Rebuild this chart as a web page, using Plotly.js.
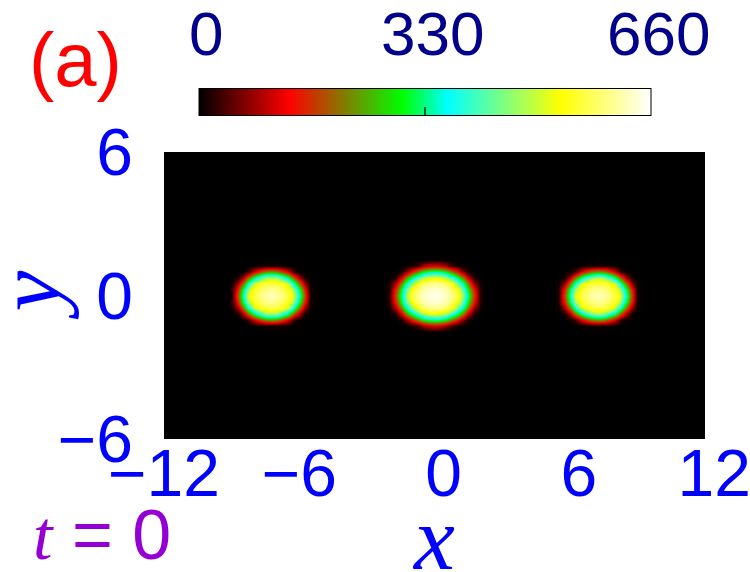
<!DOCTYPE html>
<html>
<head>
<meta charset="utf-8">
<script src="https://cdn.plot.ly/plotly-3.0.1.min.js"></script>
<style>html,body{margin:0;padding:0;background:#fff;}#chart{width:750px;height:572px;}</style>
</head>
<body>
<div id="chart"></div>
<script>
// ---- data ----
// colour scale (value range of the density)
var zMin = 0, zMax = 660;
var cbTickVals = [0, 330, 660];
var cbTickText = ['0', '330', '660'];

// axis ticks
var xTickVals = [-12, -6, 0, 6, 12];
var xTickText = ['\u221212', '\u22126', '\u00a00', '\u00a06', '\u00a012'];
var yTickVals = [-6, 0, 6];
var yTickText = ['\u22126', '0', '6'];

// blob 1 (centre x = -7.25), grid step 0.25
var blob1X = [-9.25, -9.0, -8.75, -8.5, -8.25, -8.0, -7.75, -7.5, -7.25, -7.0, -6.75, -6.5, -6.25, -6.0, -5.75, -5.5, -5.25];
var blob1Y = [-1.5, -1.25, -1.0, -0.75, -0.5, -0.25, 0, 0.25, 0.5, 0.75, 1.0, 1.25, 1.5];
var blob1Z = [
  [0,0,0,0,0,0,0,0,0,0,0,0,0,0,0,0,0],
  [0,0,0,0,0,4,7,9,10,9,7,4,0,0,0,0,0],
  [0,0,0,5,29,111,174,222,239,222,174,111,29,5,0,0,0],
  [0,0,7,83,202,320,407,460,480,460,407,320,202,83,7,0,0],
  [0,5,69,215,369,496,539,561,566,561,539,496,369,215,69,5,0],
  [0,9,140,315,473,545,578,598,606,598,578,545,473,315,140,9,0],
  [0,10,165,350,512,560,592,615,625,615,592,560,512,350,165,10,0],
  [0,9,140,315,473,545,578,598,606,598,578,545,473,315,140,9,0],
  [0,5,69,215,369,496,539,561,566,561,539,496,369,215,69,5,0],
  [0,0,7,83,202,320,407,460,480,460,407,320,202,83,7,0,0],
  [0,0,0,5,29,111,174,222,239,222,174,111,29,5,0,0,0],
  [0,0,0,0,0,4,7,9,10,9,7,4,0,0,0,0,0],
  [0,0,0,0,0,0,0,0,0,0,0,0,0,0,0,0,0]
];

// blob 2 (centre x = 0), grid step 0.25
var blob2X = [-2.25, -2.0, -1.75, -1.5, -1.25, -1.0, -0.75, -0.5, -0.25, 0, 0.25, 0.5, 0.75, 1.0, 1.25, 1.5, 1.75, 2.0, 2.25];
var blob2Y = [-1.75, -1.5, -1.25, -1.0, -0.75, -0.5, -0.25, 0, 0.25, 0.5, 0.75, 1.0, 1.25, 1.5, 1.75];
var blob2Z = [
  [0,0,0,0,0,0,0,0,0,0,0,0,0,0,0,0,0,0,0],
  [0,0,0,0,0,0,0,0,2,4,2,0,0,0,0,0,0,0,0],
  [0,0,0,0,2,13,29,75,104,114,104,75,29,13,2,0,0,0,0],
  [0,0,0,12,61,149,227,287,325,336,325,287,227,149,61,12,0,0,0],
  [0,0,15,100,216,327,410,473,508,520,508,473,410,327,216,100,15,0,0],
  [0,10,79,215,347,459,543,583,601,606,601,583,543,459,347,215,79,10,0],
  [0,17,143,292,427,536,591,618,633,638,633,618,591,536,427,292,143,17,0],
  [0,20,165,320,455,565,605,630,645,650,645,630,605,565,455,320,165,20,0],
  [0,17,143,292,427,536,591,618,633,638,633,618,591,536,427,292,143,17,0],
  [0,10,79,215,347,459,543,583,601,606,601,583,543,459,347,215,79,10,0],
  [0,0,15,100,216,327,410,473,508,520,508,473,410,327,216,100,15,0,0],
  [0,0,0,12,61,149,227,287,325,336,325,287,227,149,61,12,0,0,0],
  [0,0,0,0,2,13,29,75,104,114,104,75,29,13,2,0,0,0,0],
  [0,0,0,0,0,0,0,0,2,4,2,0,0,0,0,0,0,0,0],
  [0,0,0,0,0,0,0,0,0,0,0,0,0,0,0,0,0,0,0]
];

// blob 3 (centre x = 7.25), same shape as blob 1
var blob3X = [5.25, 5.5, 5.75, 6.0, 6.25, 6.5, 6.75, 7.0, 7.25, 7.5, 7.75, 8.0, 8.25, 8.5, 8.75, 9.0, 9.25];
var blob3Y = blob1Y;
var blob3Z = blob1Z;

// ---- styling ----
var palette = [
  [0.0, '#000000'],
  [0.2, '#ff0000'],
  [0.45, '#00ff00'],
  [0.55, '#00ffff'],
  [0.8, '#ffff00'],
  [1.0, '#ffffff']
];

var plotLeft = 164, plotW = 541, plotTop = 152, plotH = 287;

function blobTrace(x, y, z, showScale) {
  return {
    type: 'heatmap', x: x, y: y, z: z,
    zmin: zMin, zmax: zMax, zsmooth: 'best',
    colorscale: palette, showscale: showScale,
    hoverinfo: 'skip',
    colorbar: {
      orientation: 'h',
      x: 0.4824, xanchor: 'center', xref: 'paper',
      y: (439 - 107) / plotH, yanchor: 'middle', yref: 'paper',
      lenmode: 'pixels', len: 452, thickness: 27,
      xpad: 0, ypad: 0,
      outlinewidth: 1, outlinecolor: '#000',
      tickvals: [cbTickVals[1]], ticks: 'inside', ticklen: 9, tickwidth: 2, tickcolor: '#1f5a38',
      showticklabels: false
    }
  };
}

var data = [
  blobTrace(blob1X, blob1Y, blob1Z, true),
  blobTrace(blob2X, blob2Y, blob2Z, false),
  blobTrace(blob3X, blob3Y, blob3Z, false)
];

var annotations = [];
cbTickVals.forEach(function (v, i) {
  var px = 199 + (v - zMin) / (zMax - zMin) * 452;
  annotations.push({
    xref: 'paper', yref: 'paper', showarrow: false,
    x: (px - plotLeft) / plotW, xanchor: 'center', xshift: 7,
    y: (439 - 33) / plotH, yanchor: 'middle',
    text: cbTickText[i],
    font: {family: 'Liberation Sans, Arial, sans-serif', size: 62, color: '#00008b'}
  });
});
annotations.push({
  xref: 'paper', yref: 'paper', showarrow: false,
  x: (75 - plotLeft) / plotW, xanchor: 'center',
  y: (439 - 59) / plotH, yanchor: 'middle',
  text: '(a)',
  font: {family: 'Liberation Sans, Arial, sans-serif', size: 76, color: '#ff0000'}
});
annotations.push({
  xref: 'paper', yref: 'paper', showarrow: false,
  x: (102 - plotLeft) / plotW, xanchor: 'center',
  y: (439 - 535) / plotH, yanchor: 'middle',
  text: '<span style="font-family:Liberation Serif"><i>t</i></span> = 0',
  font: {family: 'Liberation Sans, Arial, sans-serif', size: 70, color: '#9400d3'}
});
// axis titles
annotations.push({
  xref: 'paper', yref: 'paper', showarrow: false,
  x: (28 - plotLeft) / plotW, xanchor: 'center',
  y: 0.5, yanchor: 'middle', textangle: -90,
  text: '<i>y</i>',
  font: {family: 'Liberation Serif, Times New Roman, serif', size: 92, color: '#0000ff'}
});
annotations.push({
  xref: 'paper', yref: 'paper', showarrow: false,
  x: (433 - plotLeft) / plotW, xanchor: 'center',
  y: (439 - 538) / plotH, yanchor: 'middle',
  text: '<i>x</i>',
  font: {family: 'Liberation Serif, Times New Roman, serif', size: 92, color: '#0000ff'}
});

var tickFont = {family: 'Liberation Sans, Arial, sans-serif', size: 66, color: '#0000ff'};
var layout = {
  width: 750, height: 572,
  margin: {l: plotLeft, r: 750 - plotLeft - plotW, t: plotTop, b: 572 - plotTop - plotH, pad: 0},
  paper_bgcolor: '#ffffff', plot_bgcolor: '#000000',
  showlegend: false,
  xaxis: {
    range: [-12, 12], tickmode: 'array', tickvals: xTickVals, ticktext: xTickText,
    tickfont: tickFont, showgrid: false, zeroline: false, showline: false, ticks: '',
    ticklabelstandoff: -10, ticklabeloverflow: 'allow', fixedrange: true
  },
  yaxis: {
    range: [-6, 6], tickmode: 'array', tickvals: yTickVals, ticktext: yTickText,
    tickfont: tickFont, showgrid: false, zeroline: false, showline: false, ticks: '',
    ticklabelstandoff: 30, ticklabeloverflow: 'allow', fixedrange: true
  },
  annotations: annotations
};

Plotly.newPlot('chart', data, layout, {displayModeBar: false, staticPlot: true});
</script>
</body>
</html>
